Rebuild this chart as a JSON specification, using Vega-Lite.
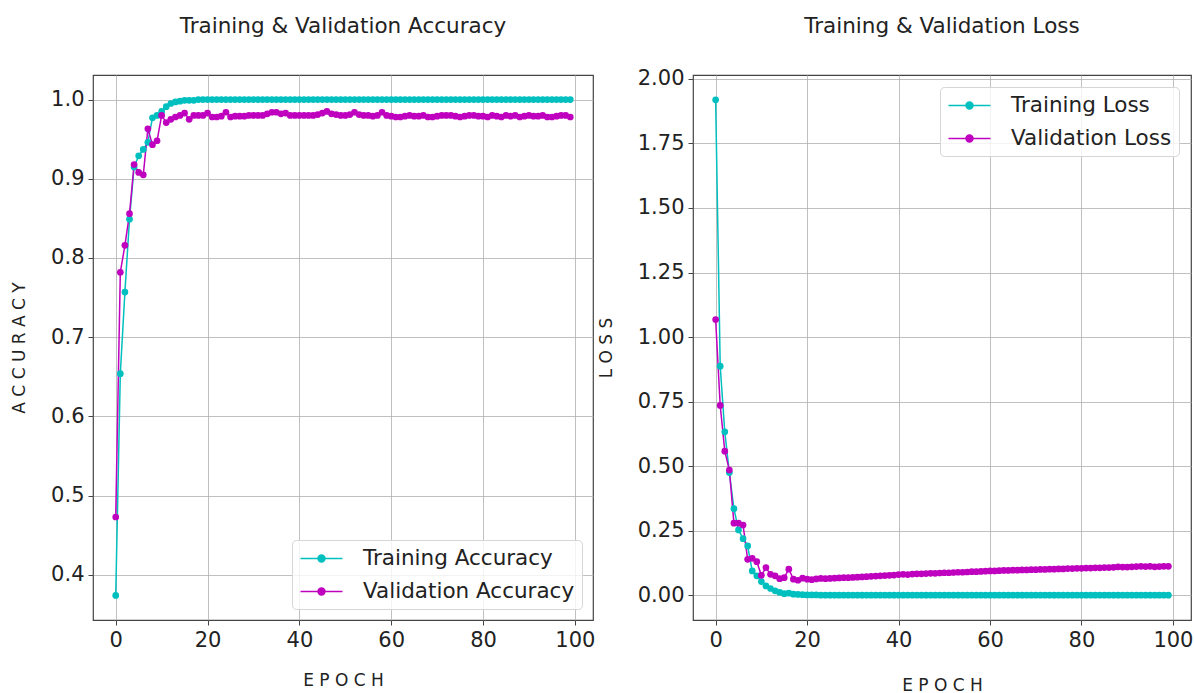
{
  "$schema": "https://vega.github.io/schema/vega-lite/v6.json",
  "background": "white",
  "padding": {"left": 10, "top": 14, "right": 0, "bottom": 0},
  "spacing": 0,
  "datasets": {
    "h": [
      {"e":0,"ta":0.374,"va":0.473,"tl":1.919,"vl":1.068},
      {"e":1,"ta":0.654,"va":0.782,"tl":0.887,"vl":0.735},
      {"e":2,"ta":0.757,"va":0.816,"tl":0.633,"vl":0.558},
      {"e":3,"ta":0.849,"va":0.856,"tl":0.475,"vl":0.485},
      {"e":4,"ta":0.915,"va":0.918,"tl":0.335,"vl":0.279},
      {"e":5,"ta":0.929,"va":0.908,"tl":0.253,"vl":0.279},
      {"e":6,"ta":0.937,"va":0.905,"tl":0.219,"vl":0.272},
      {"e":7,"ta":0.946,"va":0.963,"tl":0.191,"vl":0.139},
      {"e":8,"ta":0.977,"va":0.943,"tl":0.094,"vl":0.143},
      {"e":9,"ta":0.980,"va":0.948,"tl":0.075,"vl":0.130},
      {"e":10,"ta":0.985,"va":0.980,"tl":0.053,"vl":0.077},
      {"e":11,"ta":0.991,"va":0.971,"tl":0.036,"vl":0.107},
      {"e":12,"ta":0.995,"va":0.975,"tl":0.026,"vl":0.081},
      {"e":13,"ta":0.997,"va":0.978,"tl":0.017,"vl":0.075},
      {"e":14,"ta":0.998,"va":0.980,"tl":0.011,"vl":0.064},
      {"e":15,"ta":0.999,"va":0.983,"tl":0.006,"vl":0.068},
      {"e":16,"ta":0.999,"va":0.975,"tl":0.008,"vl":0.101},
      {"e":17,"ta":0.999,"va":0.980,"tl":0.004,"vl":0.062},
      {"e":18,"ta":1.0,"va":0.980,"tl":0.003,"vl":0.058},
      {"e":19,"ta":1.0,"va":0.980,"tl":0.002,"vl":0.066},
      {"e":20,"ta":1.0,"va":0.983,"tl":0.001,"vl":0.062},
      {"e":21,"ta":1.0,"va":0.978,"tl":0.001,"vl":0.060},
      {"e":22,"ta":1.0,"va":0.978,"tl":0.001,"vl":0.063},
      {"e":23,"ta":1.0,"va":0.979,"tl":0.0,"vl":0.065},
      {"e":24,"ta":1.0,"va":0.984,"tl":0.0,"vl":0.064},
      {"e":25,"ta":1.0,"va":0.978,"tl":0.0,"vl":0.065},
      {"e":26,"ta":1.0,"va":0.979,"tl":0.0,"vl":0.066},
      {"e":27,"ta":1.0,"va":0.979,"tl":0.0,"vl":0.067},
      {"e":28,"ta":1.0,"va":0.979,"tl":0.0,"vl":0.068},
      {"e":29,"ta":1.0,"va":0.980,"tl":0.0,"vl":0.068},
      {"e":30,"ta":1.0,"va":0.980,"tl":0.0,"vl":0.069},
      {"e":31,"ta":1.0,"va":0.980,"tl":0.0,"vl":0.070},
      {"e":32,"ta":1.0,"va":0.980,"tl":0.0,"vl":0.071},
      {"e":33,"ta":1.0,"va":0.982,"tl":0.0,"vl":0.072},
      {"e":34,"ta":1.0,"va":0.984,"tl":0.0,"vl":0.073},
      {"e":35,"ta":1.0,"va":0.984,"tl":0.0,"vl":0.074},
      {"e":36,"ta":1.0,"va":0.982,"tl":0.0,"vl":0.075},
      {"e":37,"ta":1.0,"va":0.983,"tl":0.0,"vl":0.076},
      {"e":38,"ta":1.0,"va":0.980,"tl":0.0,"vl":0.077},
      {"e":39,"ta":1.0,"va":0.980,"tl":0.0,"vl":0.078},
      {"e":40,"ta":1.0,"va":0.980,"tl":0.0,"vl":0.080},
      {"e":41,"ta":1.0,"va":0.980,"tl":0.0,"vl":0.081},
      {"e":42,"ta":1.0,"va":0.980,"tl":0.0,"vl":0.080},
      {"e":43,"ta":1.0,"va":0.980,"tl":0.0,"vl":0.082},
      {"e":44,"ta":1.0,"va":0.981,"tl":0.0,"vl":0.083},
      {"e":45,"ta":1.0,"va":0.983,"tl":0.0,"vl":0.083},
      {"e":46,"ta":1.0,"va":0.985,"tl":0.0,"vl":0.084},
      {"e":47,"ta":1.0,"va":0.982,"tl":0.0,"vl":0.085},
      {"e":48,"ta":1.0,"va":0.981,"tl":0.0,"vl":0.085},
      {"e":49,"ta":1.0,"va":0.980,"tl":0.0,"vl":0.086},
      {"e":50,"ta":1.0,"va":0.980,"tl":0.0,"vl":0.087},
      {"e":51,"ta":1.0,"va":0.981,"tl":0.0,"vl":0.087},
      {"e":52,"ta":1.0,"va":0.984,"tl":0.0,"vl":0.088},
      {"e":53,"ta":1.0,"va":0.981,"tl":0.0,"vl":0.089},
      {"e":54,"ta":1.0,"va":0.980,"tl":0.0,"vl":0.089},
      {"e":55,"ta":1.0,"va":0.980,"tl":0.0,"vl":0.090},
      {"e":56,"ta":1.0,"va":0.979,"tl":0.0,"vl":0.091},
      {"e":57,"ta":1.0,"va":0.980,"tl":0.0,"vl":0.091},
      {"e":58,"ta":1.0,"va":0.984,"tl":0.0,"vl":0.092},
      {"e":59,"ta":1.0,"va":0.980,"tl":0.0,"vl":0.093},
      {"e":60,"ta":1.0,"va":0.979,"tl":0.0,"vl":0.094},
      {"e":61,"ta":1.0,"va":0.978,"tl":0.0,"vl":0.094},
      {"e":62,"ta":1.0,"va":0.978,"tl":0.0,"vl":0.095},
      {"e":63,"ta":1.0,"va":0.979,"tl":0.0,"vl":0.096},
      {"e":64,"ta":1.0,"va":0.980,"tl":0.0,"vl":0.096},
      {"e":65,"ta":1.0,"va":0.979,"tl":0.0,"vl":0.097},
      {"e":66,"ta":1.0,"va":0.979,"tl":0.0,"vl":0.097},
      {"e":67,"ta":1.0,"va":0.980,"tl":0.0,"vl":0.098},
      {"e":68,"ta":1.0,"va":0.978,"tl":0.0,"vl":0.098},
      {"e":69,"ta":1.0,"va":0.978,"tl":0.0,"vl":0.099},
      {"e":70,"ta":1.0,"va":0.979,"tl":0.0,"vl":0.099},
      {"e":71,"ta":1.0,"va":0.980,"tl":0.0,"vl":0.100},
      {"e":72,"ta":1.0,"va":0.980,"tl":0.0,"vl":0.100},
      {"e":73,"ta":1.0,"va":0.980,"tl":0.0,"vl":0.101},
      {"e":74,"ta":1.0,"va":0.979,"tl":0.0,"vl":0.101},
      {"e":75,"ta":1.0,"va":0.978,"tl":0.0,"vl":0.102},
      {"e":76,"ta":1.0,"va":0.979,"tl":0.0,"vl":0.102},
      {"e":77,"ta":1.0,"va":0.980,"tl":0.0,"vl":0.103},
      {"e":78,"ta":1.0,"va":0.980,"tl":0.0,"vl":0.103},
      {"e":79,"ta":1.0,"va":0.979,"tl":0.0,"vl":0.104},
      {"e":80,"ta":1.0,"va":0.979,"tl":0.0,"vl":0.104},
      {"e":81,"ta":1.0,"va":0.978,"tl":0.0,"vl":0.105},
      {"e":82,"ta":1.0,"va":0.980,"tl":0.0,"vl":0.105},
      {"e":83,"ta":1.0,"va":0.979,"tl":0.0,"vl":0.106},
      {"e":84,"ta":1.0,"va":0.978,"tl":0.0,"vl":0.106},
      {"e":85,"ta":1.0,"va":0.980,"tl":0.0,"vl":0.107},
      {"e":86,"ta":1.0,"va":0.979,"tl":0.0,"vl":0.107},
      {"e":87,"ta":1.0,"va":0.980,"tl":0.0,"vl":0.108},
      {"e":88,"ta":1.0,"va":0.978,"tl":0.0,"vl":0.110},
      {"e":89,"ta":1.0,"va":0.979,"tl":0.0,"vl":0.109},
      {"e":90,"ta":1.0,"va":0.980,"tl":0.0,"vl":0.109},
      {"e":91,"ta":1.0,"va":0.979,"tl":0.0,"vl":0.110},
      {"e":92,"ta":1.0,"va":0.979,"tl":0.0,"vl":0.111},
      {"e":93,"ta":1.0,"va":0.980,"tl":0.0,"vl":0.112},
      {"e":94,"ta":1.0,"va":0.978,"tl":0.0,"vl":0.111},
      {"e":95,"ta":1.0,"va":0.978,"tl":0.0,"vl":0.112},
      {"e":96,"ta":1.0,"va":0.979,"tl":0.0,"vl":0.110},
      {"e":97,"ta":1.0,"va":0.980,"tl":0.0,"vl":0.111},
      {"e":98,"ta":1.0,"va":0.980,"tl":0.0,"vl":0.112},
      {"e":99,"ta":1.0,"va":0.978,"tl":0.0,"vl":0.112}
    ]
  },
  "hconcat": [
    {
      "title": {"text": "Training & Validation Accuracy", "offset": 38},
      "width": 500,
      "height": 545,
      "data": {"name": "h"},
      "transform": [{"fold": ["ta", "va"], "as": ["key", "value"]}],
      "encoding": {
        "x": {"field": "e", "type": "quantitative", "scale": {"domain": [-4.95, 103.95], "nice": false, "zero": false},
              "axis": {"values": [0, 20, 40, 60, 80, 100], "title": "E P O C H", "titlePadding": 22}},
        "y": {"field": "value", "type": "quantitative", "scale": {"domain": [0.343, 1.031], "nice": false, "zero": false},
              "axis": {"values": [0.4, 0.5, 0.6, 0.7, 0.8, 0.9, 1.0], "format": ".1f", "title": "A C C U R A C Y", "titlePadding": 22}},
        "color": {"field": "key", "type": "nominal",
                  "scale": {"domain": ["ta", "va"], "range": ["#00BFBF", "#BF00BF"]},
                  "legend": {"orient": "bottom-right", "offset": 11,
                             "labelExpr": "datum.label == 'ta' ? 'Training Accuracy' : 'Validation Accuracy'"}}
      },
      "layer": [
        {"mark": {"type": "line", "strokeWidth": 1.5}},
        {"mark": {"type": "circle", "size": 45, "opacity": 1}}
      ]
    },
    {
      "title": {"text": "Training & Validation Loss", "offset": 30},
      "width": 498,
      "height": 545,
      "data": {"name": "h"},
      "transform": [{"fold": ["tl", "vl"], "as": ["key", "value"]}],
      "encoding": {
        "x": {"field": "e", "type": "quantitative", "scale": {"domain": [-4.95, 103.95], "nice": false, "zero": false},
              "axis": {"values": [0, 20, 40, 60, 80, 100], "title": "E P O C H", "titlePadding": 27}},
        "y": {"field": "value", "type": "quantitative", "scale": {"domain": [-0.096, 2.015], "nice": false, "zero": false},
              "axis": {"values": [0, 0.25, 0.5, 0.75, 1.0, 1.25, 1.5, 1.75, 2.0], "format": ".2f", "title": "L O S S", "titlePadding": 22}},
        "color": {"field": "key", "type": "nominal",
                  "scale": {"domain": ["tl", "vl"], "range": ["#00BFBF", "#BF00BF"]},
                  "legend": {"orient": "top-right", "offset": 12,
                             "labelExpr": "datum.label == 'tl' ? 'Training Loss' : 'Validation Loss'"}}
      },
      "layer": [
        {"mark": {"type": "line", "strokeWidth": 1.5}},
        {"mark": {"type": "circle", "size": 45, "opacity": 1}}
      ]
    }
  ],
  "resolve": {"scale": {"color": "independent"}},
  "config": {
    "font": "DejaVu Sans",
    "view": {"stroke": "#444", "strokeWidth": 1.2},
    "title": {"fontSize": 21.5, "fontWeight": "normal", "color": "#222", "anchor": "middle", "frame": "group"},
    "axis": {"grid": true, "gridColor": "#b0b0b0", "gridWidth": 0.8, "domain": false,
             "tickColor": "#444", "tickSize": 5, "labelFontSize": 21, "labelColor": "#222", "labelPadding": 4,
             "titleFontSize": 17, "titleFontWeight": "normal", "titleColor": "#222"},
    "legend": {"title": null, "labelFontSize": 21.5, "labelColor": "#222", "labelLimit": 400,
               "symbolType": "M-2,0L2,0M-0.33,0A0.33,0.33 0 1,0 0.33,0A0.33,0.33 0 1,0 -0.33,0",
               "symbolSize": 441, "symbolStrokeWidth": 1.5, "symbolOffset": 11, "rowPadding": 11, "labelOffset": 30,
               "padding": 7, "strokeColor": "#d6d6d6", "fillColor": "rgba(255,255,255,0.8)", "cornerRadius": 4}
  }
}
